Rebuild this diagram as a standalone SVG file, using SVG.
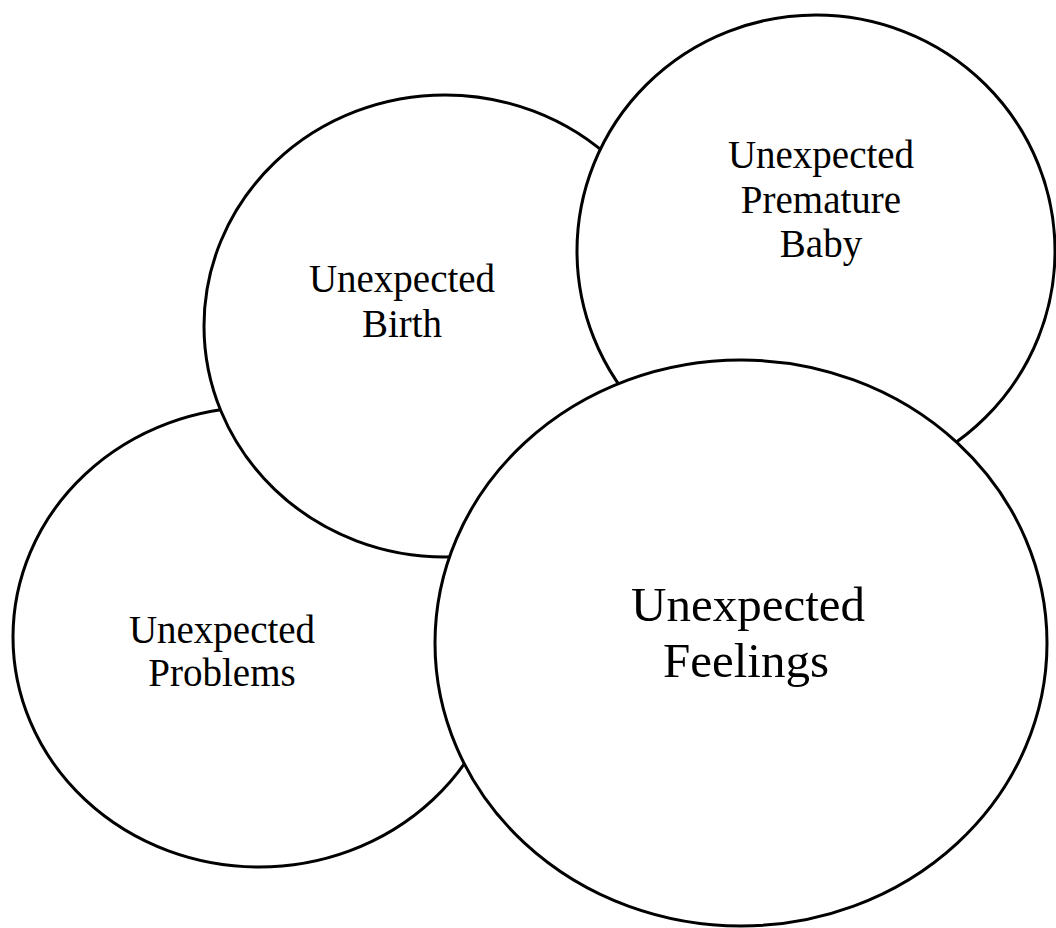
<svg xmlns="http://www.w3.org/2000/svg" width="1056" height="928" viewBox="0 0 1056 928">
<style>
.c{fill:#fff;stroke:#000;stroke-width:3}
.t{font-family:"Liberation Serif","Times New Roman",serif;fill:#000;text-anchor:middle}
.s{font-size:39px}
.b{font-size:49px}
</style>
<rect width="1056" height="928" fill="#fff"/>
<g id="problems">
<ellipse class="c" cx="259" cy="637" rx="246" ry="230"/>
<text class="t s" x="222" y="643">Unexpected</text>
<text class="t s" x="222" y="686">Problems</text>
</g>
<g id="birth">
<ellipse class="c" cx="445" cy="326" rx="241" ry="231"/>
<text class="t s" x="402" y="292">Unexpected</text>
<text class="t s" x="402" y="337">Birth</text>
</g>
<g id="premature">
<ellipse class="c" cx="816" cy="251" rx="239" ry="236"/>
<text class="t s" x="821" y="168">Unexpected</text>
<text class="t s" x="821" y="213">Premature</text>
<text class="t s" x="821" y="257">Baby</text>
</g>
<g id="feelings">
<ellipse class="c" cx="741" cy="643" rx="306" ry="283"/>
<text class="t b" x="748" y="621">Unexpected</text>
<text class="t b" x="746" y="677">Feelings</text>
</g>
<g id="connectors"/>
</svg>
